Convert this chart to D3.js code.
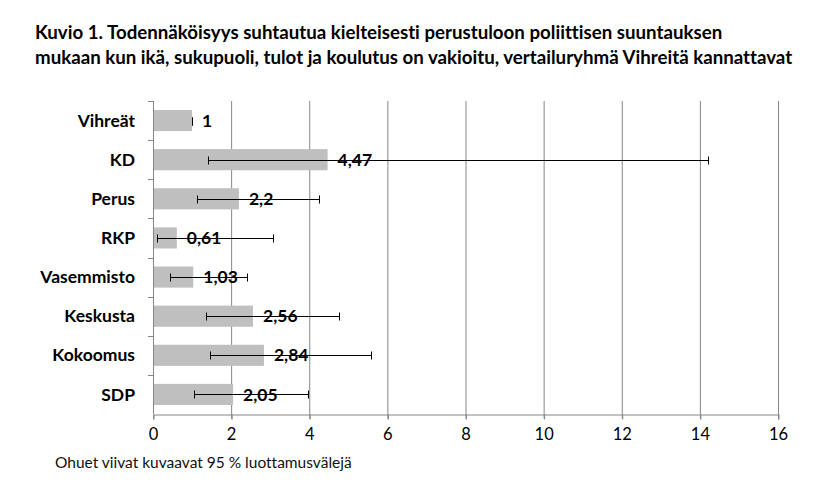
<!DOCTYPE html>
<html>
<head>
<meta charset="utf-8">
<script src="https://cdn.jsdelivr.net/npm/d3@7"></script>
<style>
  body { margin: 0; background: #fff; }
  svg text { font-family: Lato, "Open Sans", sans-serif; font-variant-ligatures: none; }
</style>
</head>
<body>
<svg id="chart" width="813" height="489"></svg>
<script>
var categories = ["Vihreät", "KD", "Perus", "RKP", "Vasemmisto", "Keskusta", "Kokoomus", "SDP"];
var values = [1, 4.47, 2.2, 0.61, 1.03, 2.56, 2.84, 2.05];
var lower = [1, 1.42, 1.13, 0.11, 0.44, 1.36, 1.46, 1.06];
var upper = [1, 14.22, 4.26, 3.08, 2.41, 4.77, 5.59, 3.98];
var xTicks = [0, 2, 4, 6, 8, 10, 12, 14, 16];
var titleLines = [
  "Kuvio 1. Todennäköisyys suhtautua kielteisesti perustuloon poliittisen suuntauksen",
  "mukaan kun ikä, sukupuoli, tulot ja koulutus on vakioitu, vertailuryhmä Vihreitä kannattavat"
];
var note = "Ohuet viivat kuvaavat 95 % luottamusvälejä";

var data = categories.map(function(c, i) {
  return {name: c, value: values[i], lo: lower[i], hi: upper[i]};
});

var svg = d3.select("#chart"),
    margin = {top: 101, right: 35, bottom: 75, left: 153},
    width = +svg.attr("width") - margin.left - margin.right,
    height = +svg.attr("height") - margin.top - margin.bottom,
    g = svg.append("g").attr("transform", "translate(" + margin.left + "," + margin.top + ")");

var x = d3.scaleLinear().domain([0, 16]).range([0, width]);
var y = d3.scaleBand().domain(categories).range([0, height]).paddingInner(0.46).paddingOuter(0.23);
var yb = d3.scaleBand().domain(categories).range([0, height]);

// title
svg.append("g").selectAll("text")
  .data(titleLines)
  .enter().append("text")
    .attr("x", 35)
    .attr("y", function(d, i) { return 39 + i * 25; })
    .attr("font-size", 18.7)
    .attr("font-weight", "bold")
    .attr("fill", "#000")
    .text(function(d) { return d; });

// grid lines
g.append("g").selectAll("line")
  .data(xTicks.slice(1))
  .enter().append("line")
    .attr("x1", function(d) { return x(d) + 0.5; })
    .attr("x2", function(d) { return x(d) + 0.5; })
    .attr("y1", 0)
    .attr("y2", height + 5)
    .attr("stroke", "#868686");

// x axis
var xAxis = g.append("g")
    .attr("transform", "translate(0," + (height + 0.5) + ")")
    .call(d3.axisBottom(x).tickValues(xTicks).tickSize(5).tickFormat(d3.format("d")));
xAxis.select(".domain").attr("stroke", "#868686");
xAxis.selectAll(".tick line").attr("stroke", "#868686").attr("transform", "translate(0.5,0)");
xAxis.selectAll("text")
    .attr("font-size", 16.5)
    .attr("font-family", "Lato, sans-serif")
    .attr("fill", "#000")
    .attr("dy", "1.05em");

// y axis line and band ticks
g.append("line")
    .attr("x1", 0.5).attr("x2", 0.5)
    .attr("y1", 0).attr("y2", height)
    .attr("stroke", "#868686");
g.append("g").selectAll("line")
  .data(categories)
  .enter().append("line")
    .attr("x1", -5).attr("x2", 0)
    .attr("y1", function(d) { return Math.round(yb(d)) + 0.5; })
    .attr("y2", function(d) { return Math.round(yb(d)) + 0.5; })
    .attr("stroke", "#868686");

// category labels
g.append("g").selectAll("text")
  .data(categories)
  .enter().append("text")
    .attr("x", -18)
    .attr("y", function(d) { return yb(d) + yb.bandwidth() / 2; })
    .attr("dy", "0.35em")
    .attr("text-anchor", "end")
    .attr("font-size", 17.5)
    .attr("font-weight", "bold")
    .attr("fill", "#000")
    .text(function(d) { return d; });

// bars
g.append("g").selectAll("rect")
  .data(data)
  .enter().append("rect")
    .attr("x", 1)
    .attr("y", function(d) { return y(d.name); })
    .attr("width", function(d) { return x(d.value) - 1; })
    .attr("height", y.bandwidth())
    .attr("fill", "#bfbfbf");

// value labels
g.append("g").selectAll("text")
  .data(data)
  .enter().append("text")
    .attr("x", function(d) { return x(d.value) + 10; })
    .attr("y", function(d) { return y(d.name) + y.bandwidth() / 2; })
    .attr("dy", "0.35em")
    .attr("font-size", 17.5)
    .attr("font-weight", "bold")
    .attr("fill", "#000")
    .text(function(d) { return String(d.value).replace(".", ","); });

// error bars
var err = g.append("g").attr("stroke", "#000").attr("stroke-width", 1);
data.forEach(function(d) {
  var cy = Math.round(y(d.name) + y.bandwidth() / 2) + 0.5;
  err.append("line")
      .attr("x1", x(d.lo)).attr("x2", x(d.hi))
      .attr("y1", cy).attr("y2", cy);
  [d.lo, d.hi].forEach(function(v) {
    err.append("line")
        .attr("x1", Math.round(x(v)) + 0.5).attr("x2", Math.round(x(v)) + 0.5)
        .attr("y1", cy - 4).attr("y2", cy + 4);
  });
});

// note
svg.append("text")
    .attr("x", 55)
    .attr("y", 468)
    .attr("font-size", 15.5)
    .attr("fill", "#111")
    .text(note);
</script>
</body>
</html>
